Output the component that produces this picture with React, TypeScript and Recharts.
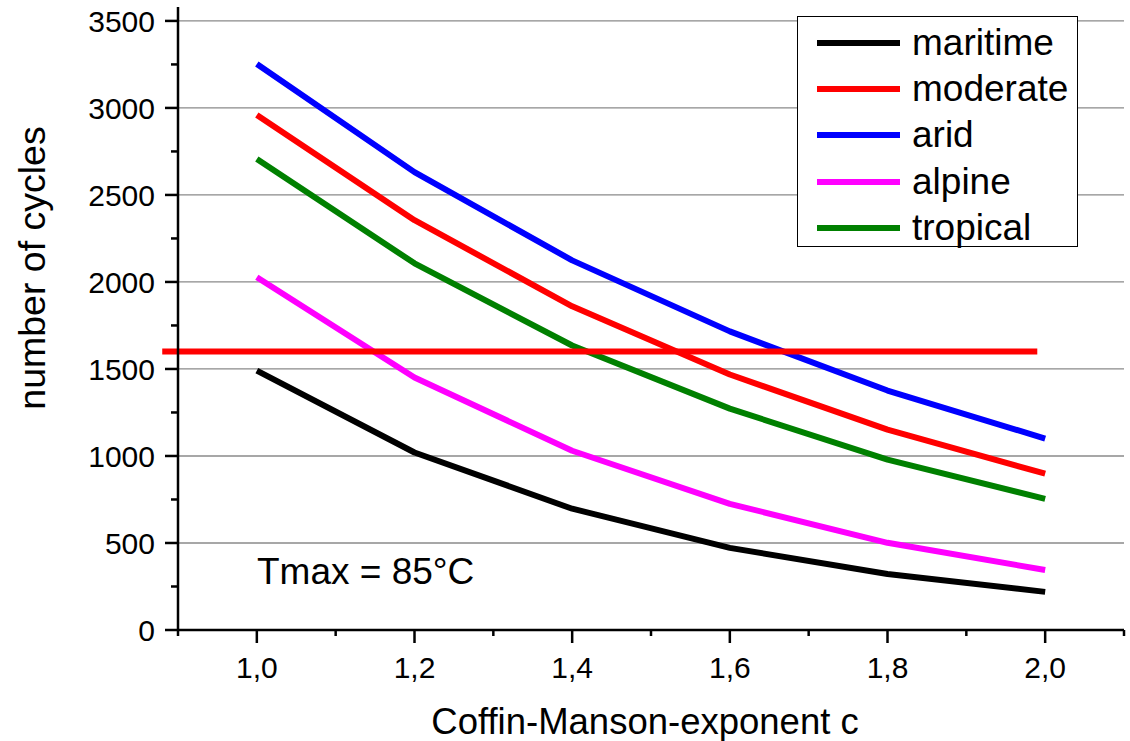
import React from 'react';
import {
  LineChart,
  Line,
  XAxis,
  YAxis,
  CartesianGrid,
  ReferenceLine,
  Legend,
  Customized,
} from 'recharts';

// Coffin-Manson exponent c (x values)
const exponents = [1.0, 1.2, 1.4, 1.6, 1.8, 2.0];

// Number of cycles per climate zone
const maritime = [1490, 1020, 697, 472, 322, 219];
const moderate = [2960, 2355, 1860, 1468, 1151, 898];
const arid = [3253, 2631, 2124, 1716, 1376, 1100];
const alpine = [2027, 1451, 1030, 725, 501, 345];
const tropical = [2706, 2107, 1635, 1272, 979, 754];

// Required cycle count (horizontal limit) and its extent along c
const limitCycles = 1600;
const limitFrom = 0.88;
const limitTo = 1.99;

// Axis ticks
const xMajor = [1.0, 1.2, 1.4, 1.6, 1.8, 2.0];
const xMinor = [0.9, 1.1, 1.3, 1.5, 1.7, 1.9, 2.1];
const xTickLabels = ['1,0', '1,2', '1,4', '1,6', '1,8', '2,0'];
const yMajor = [0, 500, 1000, 1500, 2000, 2500, 3000, 3500];
const yMinor = [250, 750, 1250, 1750, 2250, 2750, 3250];
const yTickLabels = ['0', '500', '1000', '1500', '2000', '2500', '3000', '3500'];

const seriesNames = ['maritime', 'moderate', 'arid', 'alpine', 'tropical'];
const seriesColors = ['#000000', '#ff0000', '#0000ff', '#ff00ff', '#008000'];
const seriesValues = [maritime, moderate, arid, alpine, tropical];

const rows = exponents.map((c, i) => {
  const row: Record<string, number> = { c };
  seriesNames.forEach((name, s) => {
    row[name] = seriesValues[s][i];
  });
  return row;
});

const xTicks = [...xMajor, ...xMinor].sort((a, b) => a - b);
const yTicks = [...yMajor, ...yMinor].sort((a, b) => a - b);

const FONT = '"Liberation Sans", Arial, Helvetica, sans-serif';

const findIdx = (arr: number[], v: number) => arr.findIndex((m) => Math.abs(m - v) < 1e-6);

const XTick = (props: any) => {
  const { x, y, payload } = props;
  const i = findIdx(xMajor, payload.value);
  const major = i >= 0;
  return (
    <g>
      <line x1={x} x2={x} y1={y} y2={y + (major ? 13 : 6)} stroke="#000" strokeWidth={2.5} />
      {major && (
        <text x={x} y={y + 48} textAnchor="middle" fontSize={30} fontFamily={FONT} fill="#000">
          {xTickLabels[i]}
        </text>
      )}
    </g>
  );
};

const YTick = (props: any) => {
  const { x, y, payload } = props;
  const i = findIdx(yMajor, payload.value);
  const major = i >= 0;
  return (
    <g>
      <line x1={x - (major ? 13 : 7)} x2={x} y1={y} y2={y} stroke="#000" strokeWidth={2.5} />
      {major && (
        <text x={x - 23} y={y} dy="0.36em" textAnchor="end" fontSize={30} fontFamily={FONT} fill="#000">
          {yTickLabels[i]}
        </text>
      )}
    </g>
  );
};

const LegendBox = () => (
  <div
    style={{
      width: 281,
      height: 231,
      boxSizing: 'border-box',
      border: '1.5px solid #000',
      background: '#fff',
      position: 'relative',
      fontFamily: FONT,
    }}
  >
    {seriesNames.map((name, i) => (
      <div
        key={name}
        style={{
          position: 'absolute',
          left: 0,
          top: 26 + i * 46.2 - 20,
          height: 40,
          display: 'flex',
          alignItems: 'center',
        }}
      >
        <div style={{ marginLeft: 19, width: 83, height: 6, background: seriesColors[i] }} />
        <span style={{ marginLeft: 12, fontSize: 37, lineHeight: '40px', color: '#000' }}>{name}</span>
      </div>
    ))}
  </div>
);

const Annotations = () => (
  <g fontFamily={FONT} fill="#000">
    <text x={257} y={584} fontSize={37}>
      Tmax = 85°C
    </text>
    <text x={645} y={734} fontSize={36.5} textAnchor="middle">
      Coffin-Manson-exponent c
    </text>
    <text x={45} y={268} fontSize={37.5} textAnchor="middle" transform="rotate(-90 45 268)">
      number of cycles
    </text>
  </g>
);

export default function App() {
  return (
    <div style={{ position: 'absolute', left: 0, top: 0, width: 1130, height: 741, background: '#fff' }}>
      <LineChart
        width={1130}
        height={741}
        data={rows}
        margin={{ top: 7, right: 6, bottom: 51, left: 78 }}
      >
        <CartesianGrid
          horizontal
          vertical={false}
          horizontalValues={yMajor}
          stroke="#8a8a8a"
          strokeWidth={1.3}
        />
        <XAxis
          dataKey="c"
          type="number"
          domain={[0.9, 2.1]}
          ticks={xTicks}
          interval={0}
          height={60}
          tickSize={0}
          tickMargin={0}
          tickLine={false}
          tick={<XTick />}
          axisLine={{ stroke: '#000', strokeWidth: 2.5 }}
        />
        <YAxis
          type="number"
          domain={[0, 3580]}
          ticks={yTicks}
          interval={0}
          width={100}
          tickSize={0}
          tickMargin={0}
          tickLine={false}
          tick={<YTick />}
          axisLine={{ stroke: '#000', strokeWidth: 2.5 }}
        />
        {seriesNames.map((name, i) => (
          <Line
            key={name}
            type="linear"
            dataKey={name}
            name={name}
            stroke={seriesColors[i]}
            strokeWidth={6}
            strokeLinejoin="round"
            dot={false}
            activeDot={false}
            isAnimationActive={false}
          />
        ))}
        <ReferenceLine
          segment={[
            { x: limitFrom, y: limitCycles },
            { x: limitTo, y: limitCycles },
          ]}
          stroke="#ff0000"
          strokeWidth={6}
          ifOverflow="visible"
        />
        <Legend
          layout="vertical"
          align="center"
          verticalAlign="middle"
          content={() => <LegendBox />}
          wrapperStyle={{ left: 797, top: 16, width: 281, height: 231 }}
        />
        <Customized component={Annotations} />
      </LineChart>
    </div>
  );
}
